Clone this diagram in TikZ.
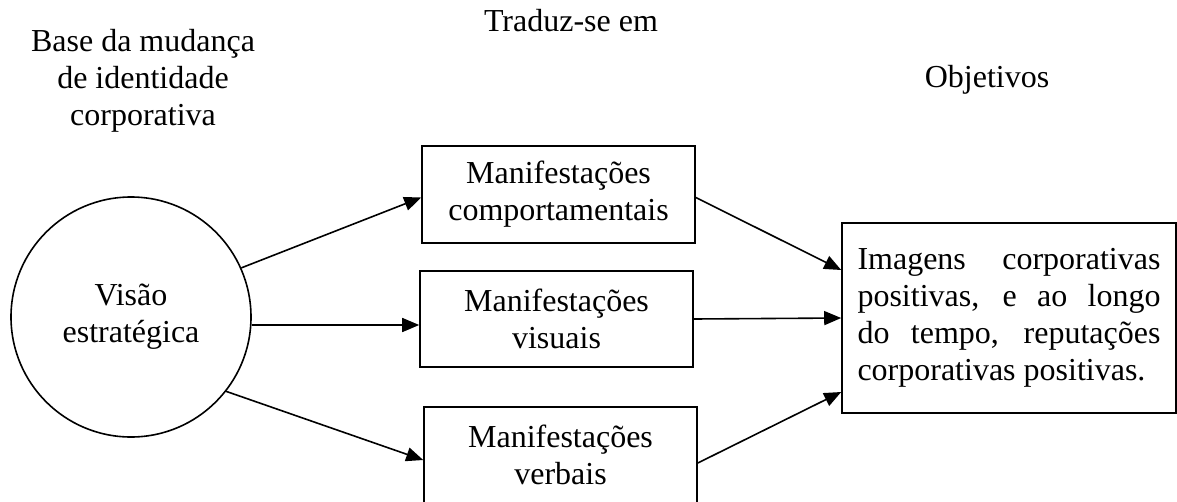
\documentclass[tikz,border=0pt]{standalone}
\usepackage{fontspec}
\setmainfont{Liberation Serif}
\usetikzlibrary{arrows.meta}
\begin{document}
\begin{tikzpicture}[x=1pt,y=-1pt,
  every node/.style={font=\fontsize{32}{37}\selectfont, inner sep=0pt},
  lbl/.style={align=center},
  mbox/.style={draw, line width=1.6pt, minimum width=273pt, minimum height=96pt, align=center},
  arr/.style={line width=1.6pt, -{Triangle[length=17pt,width=14pt]}}]
\useasboundingbox (0,0) rectangle (1177,501);
\node[lbl] (t1) at (143,81) {Base da mudança\\de identidade\\corporativa};
\node[lbl] (t2) at (571,21) {Traduz-se em};
\node[lbl] (t3) at (987,80) {Objetivos};
\node[draw, circle, line width=1.6pt, minimum size=240pt, align=center] (c) at (131,317) {Visão\\estratégica};
\node[mbox, minimum height=97pt] (b1) at (558.5,194.5) {Manifestações\\comportamentais};
\node[mbox] (b2) at (556.5,319) {Manifestações\\visuais};
\node[mbox] (b3) at (560.5,455) {Manifestações\\verbais};
\node[draw, line width=1.6pt, minimum width=334pt, minimum height=190pt, align=left] (r) at (1009,318)
  {\makebox[303pt][s]{Imagens corporativas}\\
   \makebox[303pt][s]{positivas, e ao longo}\\
   \makebox[303pt][s]{do tempo, reputações}\\
   corporativas positivas.};
\draw[arr] (c.24.6) -- ([yshift=-3pt]b1.west);
\draw[arr] ([yshift=-8pt]c.east) -- ([yshift=-6pt]b2.west);
\draw[arr] (c.-38.7) -- ([yshift=-5pt]b3.west);
\draw[arr] ([yshift=-3pt]b1.east) -- ([yshift=48pt]r.west);
\draw[arr] (b2.east) -- (r.west);
\draw[arr] ([yshift=-8pt]b3.east) -- ([yshift=-74pt]r.west);
\end{tikzpicture}
\end{document}
